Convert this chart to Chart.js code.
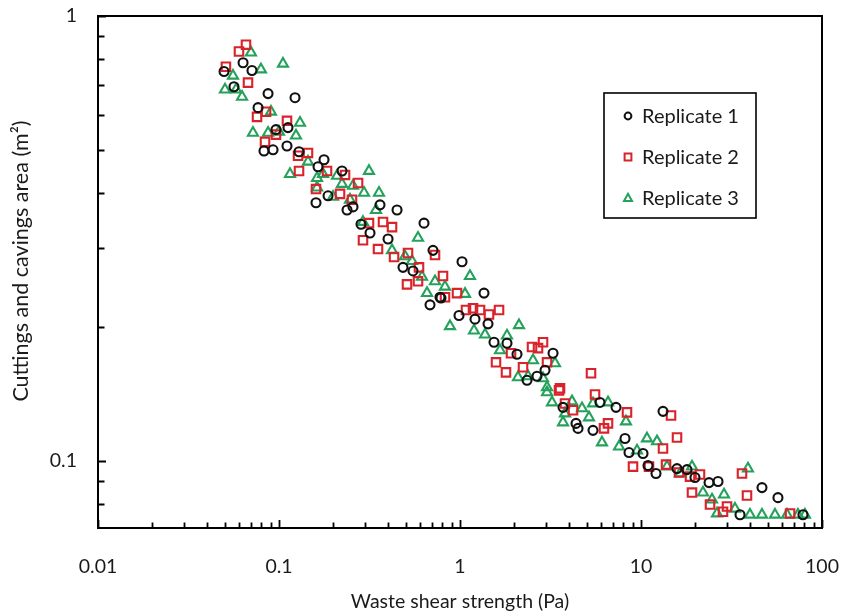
<!DOCTYPE html>
<html>
<head>
<meta charset="utf-8">
<title>Cuttings and cavings area vs waste shear strength</title>
<script src="https://cdn.jsdelivr.net/npm/chart.js@4.4.1/dist/chart.umd.min.js"></script>
<style>
  html, body { margin: 0; padding: 0; background: #ffffff; }
  canvas { display: block; }
</style>
</head>
<body>
<canvas id="chart" width="843" height="615"></canvas>
<script>
// Waste shear strength (Pa) and cuttings/cavings area (m²), three replicates
const rep1Strength = [0.0497, 0.0633, 0.0709, 0.0564, 0.0870, 0.1226, 0.0766, 0.0962, 0.1121, 0.0826,
  0.0927, 0.1107, 0.1290, 0.1773, 0.1643, 0.2229, 0.1601, 0.1866, 0.2376, 0.2564,
  0.3614, 0.4489, 0.2838, 0.3183, 0.4003, 0.6326, 0.7094, 0.4842, 0.5499, 0.7753,
  1.026, 1.357, 0.6828, 0.7852, 0.9874, 1.210, 1.428, 1.541, 1.818, 2.065,
  3.266, 2.949, 2.664, 2.346, 3.707, 4.375, 4.488, 5.430, 5.936, 7.277,
  8.158, 13.23, 8.584, 10.26, 10.93, 12.10, 15.81, 17.95, 19.87, 23.76,
  26.64, 46.6, 57.1, 35.24, 78.5];
const rep1Area = [0.750, 0.785, 0.754, 0.693, 0.669, 0.655, 0.622, 0.555, 0.561, 0.497,
  0.500, 0.510, 0.495, 0.475, 0.458, 0.448, 0.380, 0.394, 0.366, 0.372,
  0.376, 0.366, 0.340, 0.325, 0.315, 0.342, 0.297, 0.272, 0.267, 0.233,
  0.280, 0.238, 0.224, 0.232, 0.212, 0.208, 0.203, 0.1845, 0.1836, 0.1734,
  0.1743, 0.1596, 0.1547, 0.1515, 0.1317, 0.1212, 0.1181, 0.1169, 0.1351, 0.1317,
  0.1121, 0.1290, 0.1042, 0.1037, 0.0974, 0.0935, 0.0959, 0.0954, 0.0916, 0.0892,
  0.0897, 0.0869, 0.0825, 0.0755, 0.0755];

const rep2Strength = [0.0657, 0.0601, 0.0509, 0.0674, 0.0756, 0.0848, 0.1107, 0.0837, 0.0962, 0.1274,
  0.1446, 0.1290, 0.1842, 0.1601, 0.2173, 0.2316, 0.2733, 0.2531, 0.3142, 0.3755,
  0.4212, 0.2911, 0.3524, 0.5160, 0.4321, 0.5936, 0.7277, 0.8055, 0.5095, 0.5861,
  0.8262, 0.9627, 1.079, 1.180, 1.290, 1.446, 1.643, 1.581, 1.795, 1.913,
  2.500, 2.698, 2.875, 2.229, 3.025, 3.569, 5.294, 5.571, 3.524, 3.803,
  4.211, 6.573, 6.245, 8.368, 14.65, 15.81, 13.23, 9.034, 11.07, 13.75,
  16.22, 18.65, 21.18, 19.13, 24.06, 29.86, 36.14, 38.51, 28.38, 66.6];
const rep2Area = [0.862, 0.832, 0.769, 0.708, 0.593, 0.609, 0.581, 0.521, 0.541, 0.485,
  0.492, 0.448, 0.448, 0.408, 0.398, 0.439, 0.421, 0.386, 0.342, 0.344,
  0.335, 0.313, 0.299, 0.293, 0.287, 0.272, 0.290, 0.260, 0.249, 0.253,
  0.233, 0.238, 0.218, 0.220, 0.218, 0.213, 0.218, 0.1663, 0.1579, 0.1743,
  0.180, 0.179, 0.1845, 0.1621, 0.1663, 0.1453, 0.1571, 0.1408, 0.1438, 0.1344,
  0.1297, 0.1212, 0.1181, 0.1283, 0.1263, 0.1127, 0.1064, 0.0969, 0.0969, 0.0979,
  0.0940, 0.0920, 0.0930, 0.0847, 0.0796, 0.0788, 0.0935, 0.0834, 0.0767, 0.0760];

const rep3Strength = [0.0700, 0.1052, 0.0795, 0.0557, 0.0503, 0.0579, 0.0625, 0.0903, 0.1306, 0.0718,
  0.0870, 0.1000, 0.1241, 0.1150, 0.1446, 0.1622, 0.1622, 0.1751, 0.2092, 0.2229,
  0.2564, 0.1988, 0.2468, 0.3142, 0.2949, 0.3569, 0.3435, 0.2911, 0.5861, 0.4212,
  0.4967, 0.5429, 0.6167, 0.7277, 0.6573, 0.8262, 1.066, 1.135, 0.8807, 1.195,
  1.375, 2.118, 1.818, 1.663, 2.532, 3.349, 2.092, 2.376, 3.025, 2.875,
  3.025, 3.224, 4.157, 4.721, 3.803, 5.161, 5.430, 6.573, 8.262, 3.707,
  6.088, 7.560, 9.504, 10.79, 12.26, 13.92, 19.13, 16.43, 22.00, 24.68,
  28.75, 39.0, 26.30, 33.06, 40.0, 46.6, 55.0, 64.1, 73.7, 80.5];
const rep3Area = [0.827, 0.781, 0.758, 0.734, 0.683, 0.683, 0.658, 0.609, 0.575, 0.546,
  0.546, 0.549, 0.538, 0.441, 0.470, 0.432, 0.411, 0.441, 0.437, 0.419,
  0.415, 0.392, 0.386, 0.448, 0.400, 0.400, 0.366, 0.344, 0.317, 0.297,
  0.288, 0.281, 0.259, 0.253, 0.238, 0.246, 0.237, 0.260, 0.2005, 0.196,
  0.192, 0.2015, 0.191, 0.177, 0.168, 0.1654, 0.1539, 0.1547, 0.1461, 0.1531,
  0.1423, 0.1351, 0.1358, 0.1310, 0.1276, 0.1250, 0.1344, 0.1351, 0.1224, 0.1218,
  0.1098, 0.1075, 0.1053, 0.1121, 0.1104, 0.0969, 0.0969, 0.0935, 0.0847, 0.0817,
  0.0838, 0.0959, 0.0760, 0.0779, 0.0755, 0.0755, 0.0755, 0.0755, 0.0755, 0.0755];

const seriesNames = ['Replicate 1', 'Replicate 2', 'Replicate 3'];

// Axis tick positions and labelled (decade) ticks
const xTickValues = [0.01, 0.02, 0.03, 0.04, 0.05, 0.06, 0.07, 0.08, 0.09,
  0.1, 0.2, 0.3, 0.4, 0.5, 0.6, 0.7, 0.8, 0.9,
  1, 2, 3, 4, 5, 6, 7, 8, 9,
  10, 20, 30, 40, 50, 60, 70, 80, 90, 100];
const xTickLabels = ['0.01', '0.1', '1', '10', '100'];
const yTickValues = [0.08, 0.09, 0.1, 0.2, 0.3, 0.4, 0.5, 0.6, 0.7, 0.8, 0.9, 1];
const yTickLabels = ['0.1', '1'];

const xTitle = 'Waste shear strength (Pa)';
const yTitle = 'Cuttings and cavings area (m²)';

const X_MIN = 0.01, X_MAX = 100, Y_MIN = 0.0705, Y_MAX = 1;

const FONT = 'Lato, "Open Sans", "Liberation Sans", sans-serif';
const INK = '#1a1a1a';

function pairs(xs, ys) {
  return xs.map((x, i) => ({ x: x, y: ys[i] }));
}

const styles = [
  { color: '#111111', shape: 'circle', radius: 4.5 },
  { color: '#d9232a', shape: 'rect', radius: 6 },
  { color: '#24a25b', shape: 'triangle', radius: 5.8 }
];

const datasets = [
  pairs(rep1Strength, rep1Area),
  pairs(rep2Strength, rep2Area),
  pairs(rep3Strength, rep3Area)
].map((data, i) => ({
  label: seriesNames[i],
  data: data,
  pointStyle: styles[i].shape,
  pointRadius: styles[i].radius,
  pointHoverRadius: styles[i].radius,
  borderColor: styles[i].color,
  backgroundColor: 'rgba(0,0,0,0)',
  borderWidth: 2.1,
  showLine: false
}));

// Frame, inward tick marks, vertical axis title and the boxed legend
const framePlugin = {
  id: 'frame',
  beforeDraw(chart) {
    const ctx = chart.ctx;
    ctx.save();
    ctx.fillStyle = '#ffffff';
    ctx.fillRect(0, 0, chart.width, chart.height);
    ctx.restore();
  },
  afterDraw(chart) {
    const ctx = chart.ctx;
    const a = chart.chartArea;
    const xs = chart.scales.x, ys = chart.scales.y;
    ctx.save();
    ctx.strokeStyle = '#000000';
    ctx.lineWidth = 2;
    ctx.strokeRect(a.left, a.top, a.right - a.left, a.bottom - a.top);

    ctx.lineWidth = 1.8;
    ctx.beginPath();
    xTickValues.forEach(v => {
      const px = Math.round(xs.getPixelForValue(v)) + 0.5;
      const len = xTickLabels.includes(String(v)) ? 8 : 5.5;
      ctx.moveTo(px, a.bottom);
      ctx.lineTo(px, a.bottom - len);
    });
    yTickValues.forEach(v => {
      const py = Math.round(ys.getPixelForValue(v)) + 0.5;
      const len = yTickLabels.includes(String(v)) ? 8 : 6.5;
      ctx.moveTo(a.left, py);
      ctx.lineTo(a.left + len, py);
    });
    ctx.stroke();

    // vertical axis title
    ctx.save();
    ctx.translate(21, (a.top + a.bottom) / 2 - 11);
    ctx.rotate(-Math.PI / 2);
    ctx.font = '21.5px ' + FONT;
    ctx.fillStyle = INK;
    ctx.textAlign = 'center';
    ctx.textBaseline = 'middle';
    ctx.fillText(yTitle, 0, 0);
    ctx.restore();

    // legend box
    const box = { left: 604, top: 93, width: 152, height: 125 };
    ctx.lineWidth = 1.6;
    ctx.strokeStyle = '#000000';
    ctx.strokeRect(box.left, box.top, box.width, box.height);
    ctx.font = '20px ' + FONT;
    ctx.textBaseline = 'middle';
    ctx.textAlign = 'left';
    chart.data.datasets.forEach((ds, i) => {
      const cy = box.top + 23 + i * 41;
      const cx = box.left + 24;
      ctx.strokeStyle = ds.borderColor;
      ctx.lineWidth = 2;
      ctx.beginPath();
      if (ds.pointStyle === 'circle') {
        ctx.arc(cx, cy, 3.4, 0, Math.PI * 2);
      } else if (ds.pointStyle === 'rect') {
        ctx.rect(cx - 3.4, cy - 3.4, 6.8, 6.8);
      } else {
        ctx.moveTo(cx, cy - 4.2);
        ctx.lineTo(cx + 4, cy + 3);
        ctx.lineTo(cx - 4, cy + 3);
        ctx.closePath();
      }
      ctx.stroke();
      ctx.fillStyle = INK;
      ctx.fillText(ds.label, box.left + 38, cy + 1);
    });
    ctx.restore();
  }
};

new Chart(document.getElementById('chart'), {
  type: 'scatter',
  data: { datasets: datasets },
  options: {
    responsive: false,
    animation: false,
    events: [],
    layout: { padding: { top: 16, right: 21, left: 0, bottom: 0 } },
    plugins: {
      legend: { display: false },
      tooltip: { enabled: false }
    },
    scales: {
      x: {
        type: 'logarithmic',
        min: X_MIN,
        max: X_MAX,
        afterFit(scale) {
          scale.height = 87;
          scale.paddingLeft = 0;
          scale.paddingRight = 0;
        },
        afterBuildTicks(scale) { scale.ticks = xTickValues.map(v => ({ value: v })); },
        grid: { display: false, drawTicks: false },
        border: { display: false },
        ticks: {
          autoSkip: false,
          maxRotation: 0,
          padding: 27,
          color: INK,
          font: { size: 19.5, family: FONT },
          callback(value) {
            const s = String(value);
            return xTickLabels.includes(s) ? s : '';
          }
        },
        title: {
          display: true,
          text: xTitle,
          color: INK,
          font: { size: 19.5, family: FONT },
          padding: { top: 0, bottom: 2 }
        }
      },
      y: {
        type: 'logarithmic',
        min: Y_MIN,
        max: Y_MAX,
        afterFit(scale) {
          scale.width = 98;
          scale.paddingTop = 0;
          scale.paddingBottom = 0;
        },
        afterBuildTicks(scale) { scale.ticks = yTickValues.map(v => ({ value: v })); },
        grid: { display: false, drawTicks: false },
        border: { display: false },
        ticks: {
          autoSkip: false,
          padding: 21,
          color: INK,
          font: { size: 19.5, family: FONT },
          callback(value) {
            const s = String(value);
            return yTickLabels.includes(s) ? s : '';
          }
        },
        title: { display: false }
      }
    }
  },
  plugins: [framePlugin]
});
</script>
</body>
</html>
